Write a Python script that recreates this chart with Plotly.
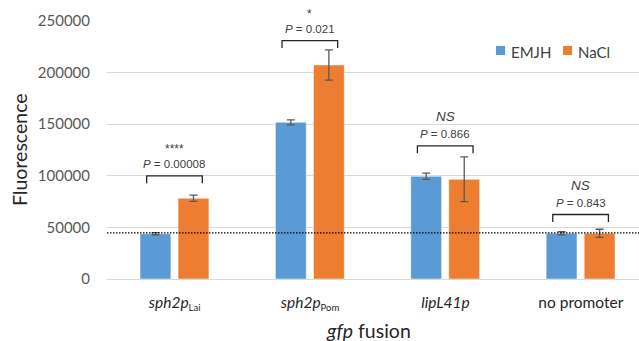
import plotly.graph_objects as go

# ---- data ----
categories = ["<i>sph2p</i><sub><span style='font-size:9.5px'>Lai</span></sub>",
              "<i>sph2p</i><sub><span style='font-size:9.5px'>Pom</span></sub>",
              "<i>lipL41p</i>", "no promoter"]
emjh = [43900, 151800, 99500, 44300]
emjh_err = [1000, 2400, 3000, 1500]
nacl = [78200, 207400, 96600, 44300]
nacl_err = [3000, 14700, 21700, 3900]
p_text = ["<i>P</i> = 0.00008", "<i>P</i> = 0.021", "<i>P</i> = 0.866", "<i>P</i> = 0.843"]
sig_text = ["****", "*", "<i>NS</i>", "<i>NS</i>"]
bracket_level = [100000, 231000, 129000, 62500]
baseline = 44700
y_ticks = [0, 50000, 100000, 150000, 200000, 250000]

BLUE = "#5B9BD5"
ORANGE = "#ED7D31"
GRAY = "#595959"
FONT = "Lato"

xs = list(range(len(categories)))
bw = 0.228
off_b = -0.256
off_o = 0.025

fig = go.Figure()
fig.add_trace(go.Bar(
    x=xs, y=emjh, width=bw, offset=off_b, name="EMJH",
    marker=dict(color=BLUE, line=dict(color="white", width=0.5)),
    error_y=dict(type="data", array=emjh_err, color=GRAY, thickness=1.3, width=4),
    showlegend=False,
))
fig.add_trace(go.Bar(
    x=xs, y=nacl, width=bw, offset=off_o, name="NaCl",
    marker=dict(color=ORANGE, line=dict(color="white", width=0.5)),
    error_y=dict(type="data", array=nacl_err, color=GRAY, thickness=1.3, width=4),
    showlegend=False,
))

shapes = []
annotations = []
for i in xs:
    left = i + off_b + bw / 2 - 0.065
    right = i + off_o + bw / 2 + 0.065
    top = bracket_level[i]
    bot = top - 7200
    shapes.append(dict(type="path", xref="x", yref="y",
                       path=f"M {left},{bot} L {left},{top} L {right},{top} L {right},{bot}",
                       line=dict(color="#262626", width=1.3)))
    cx = (left + right) / 2
    annotations.append(dict(x=cx, y=top, xref="x", yref="y", text=p_text[i], showarrow=False,
                            yshift=12, yanchor="middle",
                            font=dict(family="Liberation Sans, Arial", size=11.5, color="#404040")))
    big = "NS" in sig_text[i]
    annotations.append(dict(x=cx, y=top, xref="x", yref="y", text=sig_text[i], showarrow=False,
                            yshift=29 if big else 27, yanchor="middle",
                            font=dict(family="Liberation Sans, Arial", size=13.5 if big else 12,
                                      color="#404040")))

# baseline dotted line
shapes.append(dict(type="line", xref="paper", yref="y", x0=0, x1=1, y0=baseline, y1=baseline,
                   line=dict(color="black", width=1.2, dash="1.5px,1.5px")))

# legend (manual)
for col, label, x0 in [(BLUE, "EMJH", 496), (ORANGE, "NaCl", 563)]:
    px0 = (x0 - 107) / 532
    px1 = (x0 + 9 - 107) / 532
    shapes.append(dict(type="rect", xref="paper", yref="paper", x0=px0, x1=px1,
                       y0=(279 - 55) / 258, y1=(279 - 46) / 258, fillcolor=col, line=dict(width=0)))
    annotations.append(dict(x=(x0 + 13 - 107) / 532, y=(279 - 52) / 258, xref="paper", yref="paper",
                            text=label, showarrow=False, xanchor="left", yanchor="middle",
                            font=dict(family=FONT, size=15, color="#404040")))

# axis titles
annotations.append(dict(x=(368 - 107) / 532, y=(279 - 330) / 258, xref="paper", yref="paper",
                        text="<i>gfp</i> fusion", showarrow=False, xanchor="center", yanchor="middle",
                        font=dict(family=FONT, size=19.5, color="#262626")))
annotations.append(dict(x=(19 - 107) / 532, y=0.5, xref="paper", yref="paper",
                        text="Fluorescence", showarrow=False, textangle=-90,
                        xanchor="center", yanchor="middle",
                        font=dict(family=FONT, size=19.5, color="#262626")))

fig.update_layout(
    width=639, height=341,
    margin=dict(l=107, r=0, t=21, b=62),
    paper_bgcolor="white", plot_bgcolor="white",
    shapes=shapes, annotations=annotations,
    barmode="overlay",
    xaxis=dict(range=[-0.5, 3.43], tickvals=xs, ticktext=categories,
               showgrid=False, zeroline=False, showline=False, ticks="",
               ticklabelstandoff=12,
               tickfont=dict(family=FONT, size=15.5, color="#262626")),
    yaxis=dict(range=[0, 250000], tickvals=y_ticks, ticktext=[str(v) for v in y_ticks],
               showgrid=True, gridcolor="#d9d9d9", gridwidth=1,
               zeroline=True, zerolinecolor="#d9d9d9", zerolinewidth=1.3,
               showline=False, ticks="", ticklabelstandoff=16,
               tickfont=dict(family=FONT, size=15, color=GRAY)),
)

fig.write_html("out.html")
